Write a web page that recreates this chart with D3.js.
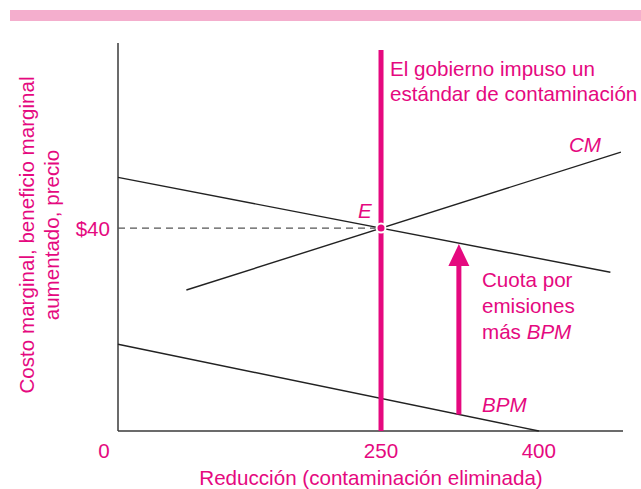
<!DOCTYPE html>
<html><head><meta charset="utf-8">
<script src="https://cdn.jsdelivr.net/npm/d3@7"></script>
<style>body{margin:0;background:#fff}svg{display:block}text{font-family:"Liberation Sans",Arial,sans-serif}</style>
</head><body>
<svg id="c" width="641" height="489"></svg>
<script>
// Data
const xTicks = [0, 250, 400];
const yTicks = [40];
const cmLine = [[65, 27.8], [478, 55]];          // CM
const upperLine = [[0, 50], [468, 31.3]];        // Cuota por emisiones más BPM
const bpmLine = [[0, 17.1], [400, 0]];           // BPM
const standard = 250;
const eq = [250, 40];
const arrowX = 324;

const pink = "#e5097f";
const fs = 20.6;
const svg = d3.select("#c");
const x = d3.scaleLinear().domain([0, 480]).range([118, 623]);
const y = d3.scaleLinear().domain([0, 76.5]).range([431, 43]);

svg.append("rect").attr("x", 10).attr("y", 10).attr("width", 631).attr("height", 11).attr("fill", "#f4aecd");

// axes
svg.append("line").attr("x1", x(0)).attr("x2", x(0)).attr("y1", y(76.5)).attr("y2", y(0)).attr("stroke", "#3a3a3a").attr("stroke-width", 1.5);
svg.append("line").attr("x1", x(0)).attr("x2", x(480)).attr("y1", y(0)).attr("y2", y(0)).attr("stroke", "#3a3a3a").attr("stroke-width", 1.5);

// tick labels
svg.selectAll(".xt").data(xTicks).enter().append("text")
  .attr("x", d => d === 0 ? x(d) - 14 : x(d)).attr("y", 458).attr("text-anchor", "middle")
  .attr("fill", pink).attr("font-size", fs).text(d => d);
svg.selectAll(".yt").data(yTicks).enter().append("text")
  .attr("x", 110).attr("y", d => y(d) + 7.5).attr("text-anchor", "end")
  .attr("fill", pink).attr("font-size", fs).text(d => "$" + d);

// titles
svg.append("text").attr("x", 371).attr("y", 485).attr("text-anchor", "middle").attr("fill", pink).attr("font-size", fs)
  .text("Reducción (contaminación eliminada)");
const yt = svg.append("text").attr("transform", "translate(0,235) rotate(-90)").attr("text-anchor", "middle").attr("fill", pink).attr("font-size", fs);
yt.append("tspan").attr("x", 0).attr("y", 34).text("Costo marginal, beneficio marginal");
yt.append("tspan").attr("x", 0).attr("y", 59).text("aumentado, precio");

// dashed
svg.append("line").attr("x1", x(0)).attr("x2", x(eq[0])).attr("y1", y(eq[1])).attr("y2", y(eq[1]))
  .attr("stroke", "#555").attr("stroke-width", 1.3).attr("stroke-dasharray", "7,5");

const line = d3.line().x(d => x(d[0])).y(d => y(d[1]));
[cmLine, upperLine, bpmLine].forEach(l => svg.append("path").attr("d", line(l)).attr("fill", "none").attr("stroke", "#222").attr("stroke-width", 1.4));

// standard
svg.append("line").attr("x1", x(standard)).attr("x2", x(standard)).attr("y1", 50).attr("y2", y(0)).attr("stroke", pink).attr("stroke-width", 5);
svg.append("circle").attr("cx", x(eq[0])).attr("cy", y(eq[1])).attr("r", 4.5).attr("fill", pink).attr("stroke", "#fff").attr("stroke-width", 2);

// arrow
const yBot = bpmLine[0][1] + (bpmLine[1][1] - bpmLine[0][1]) * arrowX / bpmLine[1][0];
const yTop = upperLine[0][1] + (upperLine[1][1] - upperLine[0][1]) * arrowX / upperLine[1][0];
const ax = x(arrowX), tipY = y(yTop) + 1;
svg.append("line").attr("x1", ax).attr("x2", ax).attr("y1", y(yBot)).attr("y2", tipY + 18).attr("stroke", pink).attr("stroke-width", 5);
svg.append("path").attr("d", `M${ax},${tipY} L${ax - 10.5},${tipY + 22} L${ax + 10.5},${tipY + 22} Z`).attr("fill", pink);

// annotations
const ann = svg.append("text").attr("fill", pink).attr("font-size", fs);
ann.append("tspan").attr("x", 390).attr("y", 76).text("El gobierno impuso un");
ann.append("tspan").attr("x", 390).attr("y", 101).text("estándar de contaminación");
svg.append("text").attr("x", 569).attr("y", 152).attr("fill", pink).attr("font-size", fs).attr("font-style", "italic").text("CM");
svg.append("text").attr("x", 358).attr("y", 218).attr("fill", pink).attr("font-size", fs).attr("font-style", "italic").text("E");
const q = svg.append("text").attr("fill", pink).attr("font-size", fs);
q.append("tspan").attr("x", 482).attr("y", 287).text("Cuota por");
q.append("tspan").attr("x", 482).attr("y", 313).text("emisiones");
const q3 = q.append("tspan").attr("x", 482).attr("y", 339);
q3.text("más ");
q.append("tspan").attr("font-style", "italic").text("BPM");
svg.append("text").attr("x", 482).attr("y", 412).attr("fill", pink).attr("font-size", fs).attr("font-style", "italic").text("BPM");
</script>
</body></html>
